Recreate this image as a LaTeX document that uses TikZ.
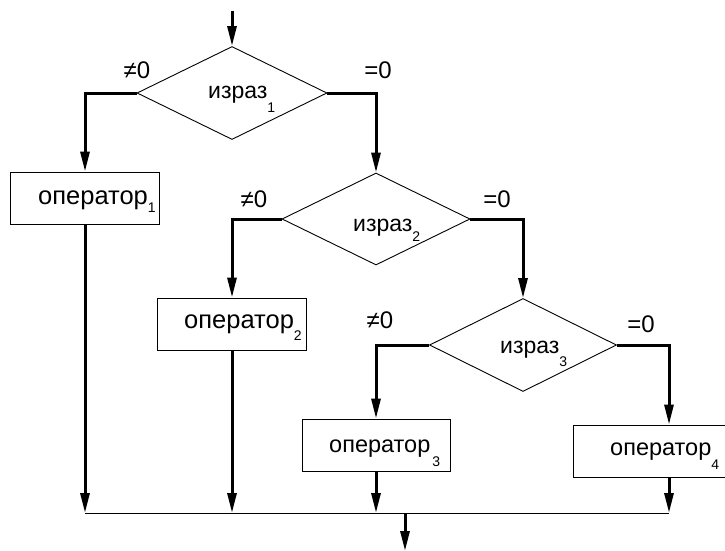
\documentclass[tikz,border=0pt]{standalone}
\usepackage{fontspec}
\setmainfont{Liberation Sans}
\usetikzlibrary{arrows.meta,shapes.geometric}
\newcommand{\lowsub}[2][-13pt]{\raisebox{#1}{\fontsize{14}{14}\selectfont #2}}
\tikzset{
  shp/.style={draw, line width=0.9pt, inner sep=0pt},
  dia/.style={shp, diamond, minimum width=#1},
  boxx/.style={shp, rectangle, minimum height=52pt},
  txt/.style={inner sep=0pt, anchor=base west},
  lbl/.style={inner sep=0pt, font=\fontsize{24}{24}\selectfont},
  flow/.style={line width=3pt, -{Triangle[length=20pt,width=9pt]}},
}
\begin{document}
\begin{tikzpicture}[x=1pt,y=-1pt]
\useasboundingbox (0,0) rectangle (725,551);
\clip (0,0) rectangle (725,551);
% decisions
\node[dia=190pt, minimum height=93pt] (d1) at (232,93) {};
\node[dia=188pt, minimum height=92pt] (d2) at (376,219) {};
\node[dia=187pt, minimum height=93pt] (d3) at (523,345) {};
% boxes
\node[boxx, minimum width=149pt] (b1) at (85,198) {};
\node[boxx, minimum width=149pt] (b2) at (232,324) {};
\node[boxx, minimum width=148pt] (b3) at (376,445) {};
\node[boxx, minimum width=192pt] (b4) at (669,451) {};
% texts
\node[txt, font=\fontsize{23}{23}\selectfont] (t1) at (208,98) {израз\lowsub[-14pt]{1}};
\node[txt, font=\fontsize{23}{23}\selectfont] (t2) at (353,231) {израз\lowsub[-10pt]{2}};
\node[txt, font=\fontsize{23}{23}\selectfont] (t3) at (500,353) {израз\lowsub[-13pt]{3}};
\node[txt, font=\fontsize{25.5}{25.5}\selectfont] (o1) at (38,204) {оператор\lowsub[-8pt]{1}};
\node[txt, font=\fontsize{25.5}{25.5}\selectfont] (o2) at (184,328) {оператор\lowsub[-12pt]{2}};
\node[txt, font=\fontsize{23.5}{23.5}\selectfont] (o3) at (329,452) {оператор\kern2pt\lowsub[-14pt]{3}};
\node[txt, font=\fontsize{23.5}{23.5}\selectfont] (o4) at (610,455) {оператор\lowsub[-14pt]{4}};
% branch labels
\node[lbl] (l1n) at (137,70) {≠0};
\node[lbl] (l1e) at (378,70) {=0};
\node[lbl] (l2n) at (254,199) {≠0};
\node[lbl] (l2e) at (497,199) {=0};
\node[lbl] (l3n) at (380,320) {≠0};
\node[lbl] (l3e) at (641,324) {=0};
% coordinates
\coordinate (start) at (232,11);
\coordinate (j1) at (85,513);
\coordinate (j2) at (232,513);
\coordinate (j3) at (376,513);
\coordinate (j4) at (669,513);
\coordinate (ex) at (405,513);
\coordinate (exend) at (405,551);
% connectors
\draw[flow] (start) -- (d1.north);
\draw[flow] (d1.west) -| (b1.north);
\draw[flow] (d1.east) -| (d2.north);
\draw[flow] (d2.west) -| (b2.north);
\draw[flow] (d2.east) -| (d3.north);
\draw[flow] (d3.west) -| (b3.north);
\draw[flow] (d3.east) -| (b4.north);
\draw[flow] (b1.south) -- (j1);
\draw[flow] (b2.south) -- (j2);
\draw[flow] (b3.south) -- (j3);
\draw[flow] (b4.south) -- (j4);
\draw[line width=0.9pt] (j1) -- (j4);
\draw[flow] (ex) -- (exend);
\end{tikzpicture}
\end{document}
